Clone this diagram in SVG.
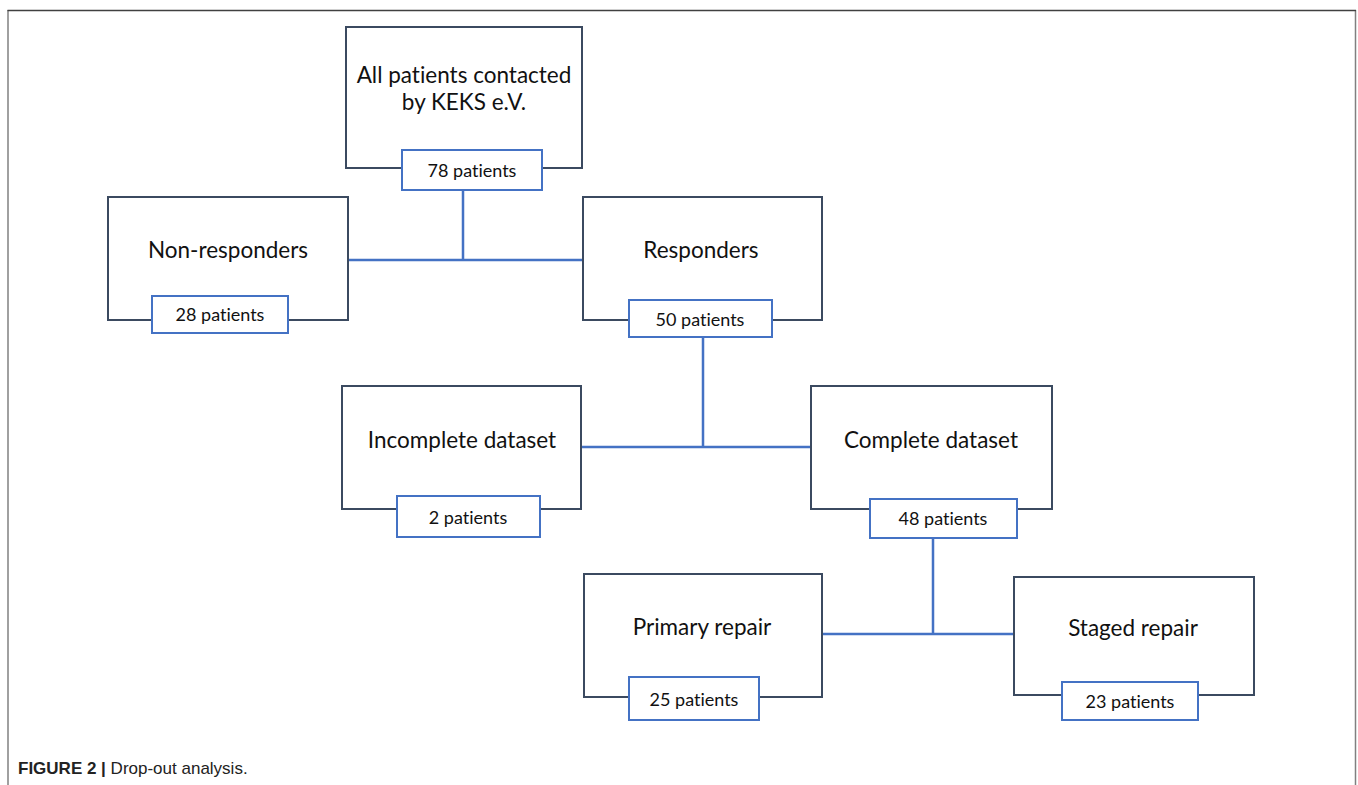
<svg xmlns="http://www.w3.org/2000/svg" width="1358" height="785" viewBox="0 0 1358 785">
<style>
.box{fill:#fff;stroke:#3b4a60;stroke-width:2}
.lab{fill:#fff;stroke:#4472c4;stroke-width:2}
.t{font-family:Lato,"Liberation Sans",sans-serif;font-size:22.5px;fill:#111;text-anchor:middle;font-variant-ligatures:none}
.s{font-family:Lato,"Liberation Sans",sans-serif;font-size:18px;fill:#111;text-anchor:middle;font-variant-ligatures:none}
.c{stroke:#4472c4;stroke-width:2.5;fill:none}
.cap{font-family:"Liberation Sans",Arial,sans-serif;font-size:17px;fill:#222}
</style>
<rect width="1358" height="785" fill="#fff"/>
<g id="frame">
<line x1="8" y1="10" x2="8" y2="785" stroke="#808080" stroke-width="1.5"/>
<line x1="1355.5" y1="10" x2="1355.5" y2="785" stroke="#808080" stroke-width="1.5"/>
<line x1="7.5" y1="10.5" x2="1356" y2="10.5" stroke="#404040" stroke-width="1.5"/>
</g>
<g id="connectors">
<path class="c" d="M463 191V260M348 260H583"/>
<path class="c" d="M703 337V447M581 447H811"/>
<path class="c" d="M933 538V634M822 634H1014"/>
</g>
<g id="n1">
<rect class="box" x="346" y="27" width="236" height="141"/>
<text class="t" x="464" y="83">All patients contacted</text>
<text class="t" x="464" y="110">by KEKS e.V.</text>
<rect class="lab" x="402" y="150" width="140" height="40"/>
<text class="s" x="472" y="177">78 patients</text>
</g>
<g id="n2">
<rect class="box" x="108" y="197" width="240" height="123"/>
<text class="t" x="228" y="258">Non-responders</text>
<rect class="lab" x="152" y="296" width="136" height="37"/>
<text class="s" x="220" y="321">28 patients</text>
</g>
<g id="n3">
<rect class="box" x="583" y="197" width="239" height="123"/>
<text class="t" x="701" y="258">Responders</text>
<rect class="lab" x="629" y="300" width="143" height="37"/>
<text class="s" x="700" y="326">50 patients</text>
</g>
<g id="n4">
<rect class="box" x="342" y="386" width="239" height="123"/>
<text class="t" x="462" y="448">Incomplete dataset</text>
<rect class="lab" x="397" y="496" width="143" height="41"/>
<text class="s" x="468" y="524">2 patients</text>
</g>
<g id="n5">
<rect class="box" x="811" y="386" width="241" height="123"/>
<text class="t" x="931" y="448">Complete dataset</text>
<rect class="lab" x="870" y="499" width="147" height="39"/>
<text class="s" x="943" y="525">48 patients</text>
</g>
<g id="n6">
<rect class="box" x="584" y="574" width="238" height="123"/>
<text class="t" x="702" y="635">Primary repair</text>
<rect class="lab" x="629" y="677" width="130" height="43"/>
<text class="s" x="694" y="706">25 patients</text>
</g>
<g id="n7">
<rect class="box" x="1014" y="577" width="240" height="118"/>
<text class="t" x="1133" y="636">Staged repair</text>
<rect class="lab" x="1062" y="682" width="136" height="38"/>
<text class="s" x="1130" y="708">23 patients</text>
</g>
<g id="caption">
<text class="cap" x="18" y="774"><tspan font-weight="bold">FIGURE 2 |</tspan> Drop-out analysis.</text>
</g>
</svg>
